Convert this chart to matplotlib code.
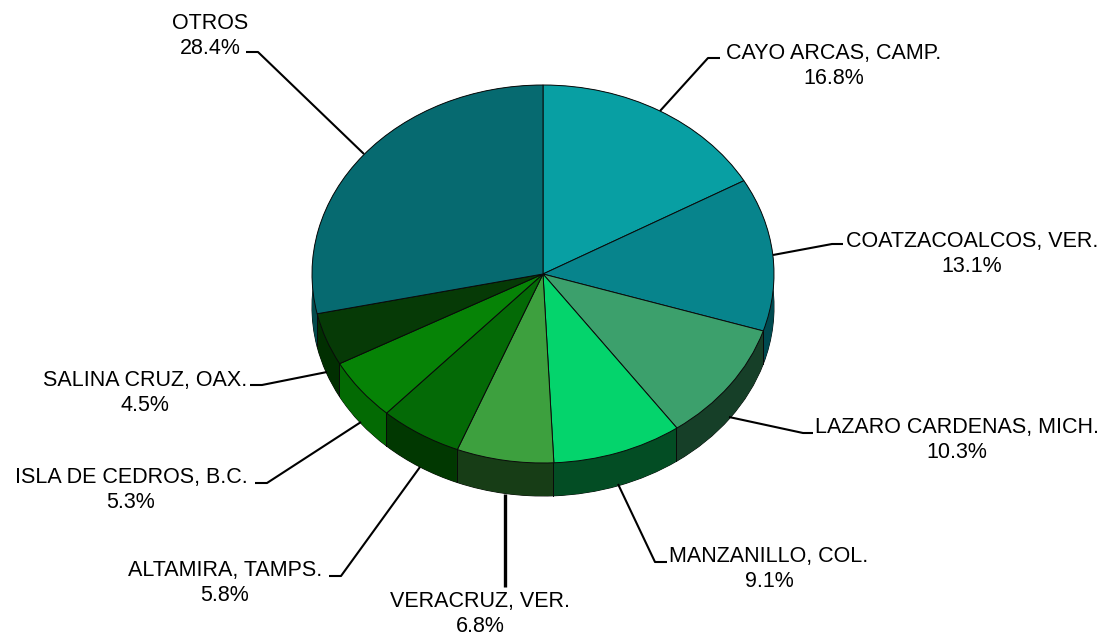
import numpy as np
import matplotlib
matplotlib.use("Agg")
import matplotlib.pyplot as plt

# participacion por puerto
puertos = ["CAYO ARCAS, CAMP.", "COATZACOALCOS, VER.", "LAZARO CARDENAS, MICH.",
           "MANZANILLO, COL.", "VERACRUZ, VER.", "ALTAMIRA, TAMPS.",
           "ISLA DE CEDROS, B.C.", "SALINA CRUZ, OAX.", "OTROS"]
valores = [16.8, 13.1, 10.3, 9.1, 6.8, 5.8, 5.3, 4.5, 28.4]

colores = ["#089fa3", "#07848c", "#3ca06c", "#04d46c", "#3da03e",
           "#046a06", "#068306", "#063a06", "#066a70"]
colores_lado = ["#04474a", "#004a50", "#163f28", "#034d24", "#173d16",
                "#013801", "#036a03", "#012f01", "#034a4c"]

W, H = 1105, 636
CX, CY, RX, RY, GROSOR = 543, 274, 231, 189, 33

fig = plt.figure(figsize=(W / 100, H / 100), dpi=100)
ax = fig.add_axes([0, 0, 1, 1])
prof = GROSOR / RY
borde = {"edgecolor": "#0a0a0a", "linewidth": 0.7}

# cara inferior, lados y cara superior
ax.pie(valores, colors=colores_lado, startangle=90, counterclock=False,
       center=(0, -prof), wedgeprops=borde)
acum = np.cumsum([0] + valores)
for i in range(len(valores)):
    t = np.radians(90 - np.linspace(acum[i], acum[i + 1], 80) * 3.6)
    xs = np.cos(t)
    ys = np.sin(t)
    ax.fill(np.r_[xs, xs[::-1]], np.r_[ys, ys[::-1] - prof],
            facecolor=colores_lado[i], edgecolor="none")
    if ys[0] < 0:
        ax.plot([xs[0], xs[0]], [ys[0], ys[0] - prof], color="#0a0a0a", lw=0.7)
ax.pie(valores, colors=colores, startangle=90, counterclock=False, wedgeprops=borde)

ax.set_aspect("auto")
ax.set_xlim(-CX / RX, (W - CX) / RX)
ax.set_ylim((CY - H) / RY, CY / RY)

# capa en pixeles para lineas guia y textos
capa = fig.add_axes([0, 0, 1, 1], facecolor="none")
capa.set_xlim(0, W)
capa.set_ylim(H, 0)
capa.axis("off")

guias = [[(660, 111), (708, 58), (720, 58)],
         [(773, 255), (832, 244), (843, 244)],
         [(729, 417), (803, 433), (813, 433)],
         [(618, 484), (655, 562), (667, 562)],
         [(505, 494), (505, 587)],
         [(420, 467), (341, 576), (329, 576)],
         [(361, 422), (267, 483), (255, 483)],
         [(327, 372), (262, 385), (250, 385)],
         [(364, 154), (258, 52), (246, 52)]]
pos_texto = [(834, 66), (972, 254), (957, 440), (769, 569), (480, 614),
             (225, 583), (131, 490), (145, 393), (210, 36)]

for i, nombre in enumerate(puertos):
    g = np.array(guias[i])
    capa.plot(g[:, 0], g[:, 1], color="black", lw=2.4 if len(g) == 2 else 1.5,
              solid_capstyle="butt")
    capa.text(pos_texto[i][0], pos_texto[i][1], f"{nombre}\n{valores[i]}%",
              ha="center", va="center", family="Liberation Sans", fontsize=15.5,
              linespacing=1.22, color="black")

fig.savefig("out.png", dpi=100)
